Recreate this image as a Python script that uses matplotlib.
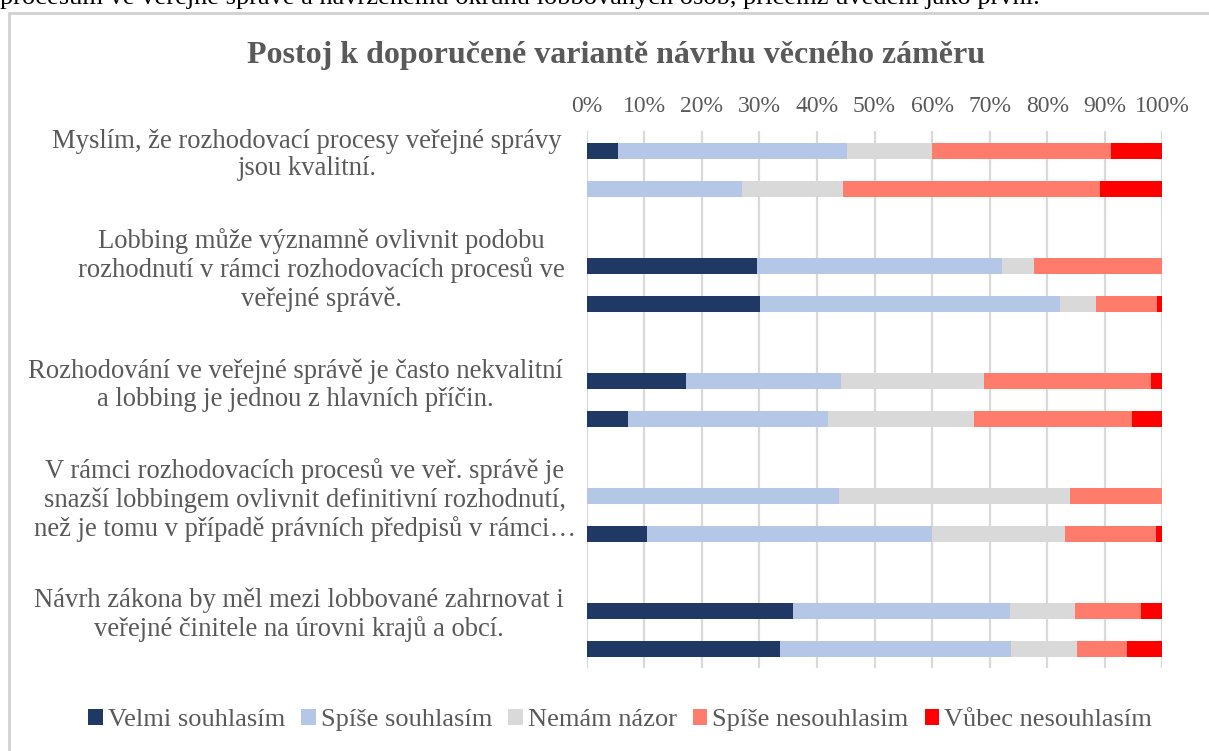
import numpy as np
import matplotlib
matplotlib.use("Agg")
import matplotlib.pyplot as plt
from matplotlib.patches import Rectangle
from matplotlib.transforms import blended_transform_factory

# Data (podíly odpovědí v %, pořadí sloupců shora dolů)
otazky = [
    "Myslím, že rozhodovací procesy veřejné správy\njsou kvalitní.",
    "Lobbing může významně ovlivnit podobu\nrozhodnutí v rámci rozhodovacích procesů ve\nveřejné správě.",
    "Rozhodování ve veřejné správě je často nekvalitní\na lobbing je jednou z hlavních příčin.",
    "V rámci rozhodovacích procesů ve veř. správě je\nsnazší lobbingem ovlivnit definitivní rozhodnutí,\nnež je tomu v případě právních předpisů v rámci…",
    "Návrh zákona by měl mezi lobbované zahrnovat i\nveřejné činitele na úrovni krajů a obcí.",
]
odpovedi = ["Velmi souhlasím", "Spíše souhlasím", "Nemám názor",
            "Spíše nesouhlasim", "Vůbec nesouhlasím"]

velmi_souhlasim = [5.4, 0.0, 29.6, 30.1, 17.2, 7.2, 0.0, 10.4, 35.8, 33.6]
spise_souhlasim = [39.9, 27.0, 42.5, 52.1, 26.9, 34.7, 43.9, 49.6, 37.7, 40.1]
nemam_nazor = [14.7, 17.5, 5.6, 6.3, 25.0, 25.4, 40.1, 23.1, 11.4, 11.5]
spise_nesouhlasim = [31.0, 44.6, 22.3, 10.6, 29.0, 27.4, 16.0, 15.8, 11.4, 8.6]
vubec_nesouhlasim = [9.0, 10.9, 0.0, 0.9, 1.9, 5.3, 0.0, 1.1, 3.7, 6.2]

barvy = ["#203864", "#B4C7E7", "#D9D9D9", "#FF7B6B", "#FF0000"]
sedy_text = "#595959"

plt.rcParams['font.family'] = ['Liberation Serif', 'DejaVu Serif']

serie = np.array([velmi_souhlasim, spise_souhlasim, nemam_nazor,
                  spise_nesouhlasim, vubec_nesouhlasim])
serie = serie / serie.sum(axis=0) * 100

# pozice sloupců: dva sloupce v každé kategorii
kategorie = np.repeat(np.arange(len(otazky)), 2)
posun = np.tile([-0.165, 0.165], len(otazky))
y = kategorie + posun

fig = plt.figure(figsize=(12.09, 7.51), dpi=100)
ax = fig.add_axes([0.4853, 0.1105, 0.4761, 0.7151])

levo = np.zeros(len(y))
for i, nazev in enumerate(odpovedi):
    ax.barh(y, serie[i], left=levo, height=0.139, color=barvy[i],
            label=nazev, zorder=3)
    levo += serie[i]

ax.set_xlim(0, 100)
ax.set_ylim(4.3304, -0.3391)
ax.set_xticks(np.arange(0, 101, 10))
ax.set_xticklabels([f"{v}%" for v in range(0, 101, 10)])
ax.xaxis.tick_top()
ax.tick_params(axis='x', length=0, pad=10, labelsize=17, labelcolor=sedy_text)
ax.set_yticks([])
ax.grid(axis='x', color="#D9D9D9", linewidth=1.6, zorder=0)
for s in ax.spines.values():
    s.set_visible(False)

# popisky kategorií
trans = blended_transform_factory(fig.transFigure, ax.transData)
stredy_x = [307, 321, 295, 305, 299]
for c, text in enumerate(otazky):
    ax.text(stredy_x[c] / 1209, c - 0.13, text, transform=trans,
            ha='center', va='center', multialignment='center',
            fontsize=19.2, color=sedy_text, linespacing=1.15)

fig.text(0.5095, 1 - 56 / 751, "Postoj k doporučené variantě návrhu věcného záměru",
         ha='center', va='center', fontsize=23, fontweight='bold', color=sedy_text)

fig.legend(loc='center', bbox_to_anchor=(0.513, 1 - 720 / 751), ncol=5,
           frameon=False, fontsize=19, handlelength=0.55, handleheight=0.55,
           handletextpad=0.2, columnspacing=0.6, labelcolor=sedy_text)

# rámeček grafu a useknutý řádek textu nad ním
fig.patches.append(Rectangle((9 / 1209, -0.05), 1.1, 1 - 13 / 751 + 0.05,
                             transform=fig.transFigure, fill=False,
                             edgecolor="#D0D0D0", linewidth=2))
fig.text(0.0, 1 - 4 / 751,
         "procesům ve veřejné správě a navrženému okruhu lobbovaných osob, přičemž uvedeni jako první.",
         ha='left', va='baseline', fontsize=19, color='black')

fig.savefig("out.png", dpi=100)
